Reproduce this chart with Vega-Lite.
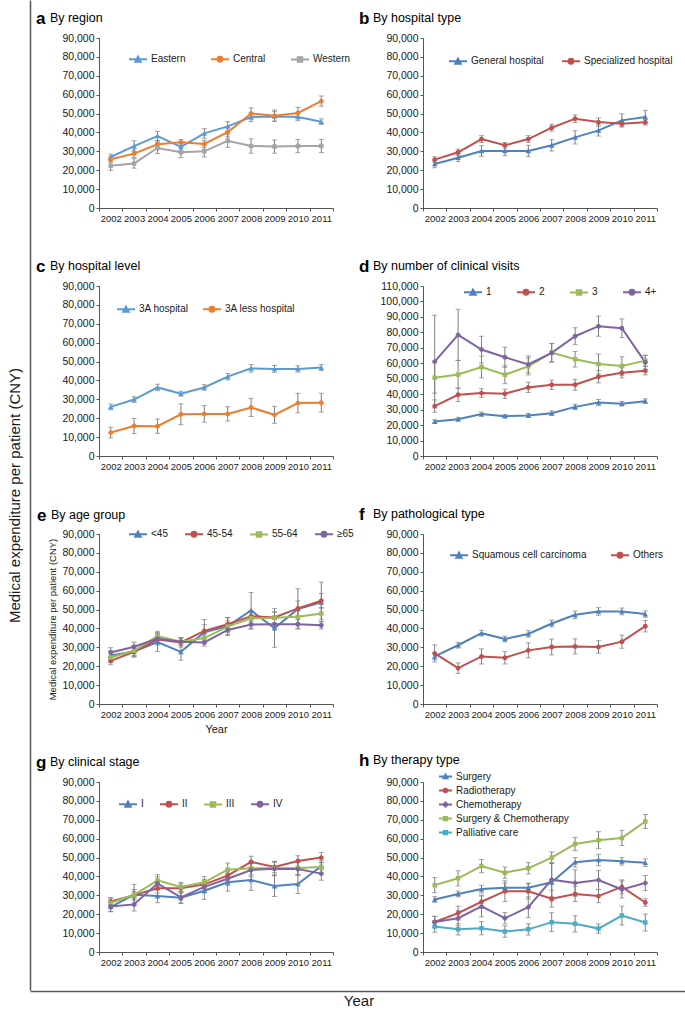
{
"$schema": "https://vega.github.io/schema/vega-lite/v6.json",
"background": "white",
"padding": {"left": 7, "top": 0, "right": 0, "bottom": 0},
"datasets": {
"a": [
{"s":"Eastern","year":"2002","v":27000,"lo":25500,"hi":28500},{"s":"Eastern","year":"2003","v":32800,"lo":30000,"hi":35600},{"s":"Eastern","year":"2004","v":38100,"lo":35600,"hi":40600},{"s":"Eastern","year":"2005","v":32300,"lo":30300,"hi":34300},{"s":"Eastern","year":"2006","v":39500,"lo":37000,"hi":42000},{"s":"Eastern","year":"2007","v":43200,"lo":40700,"hi":45700},{"s":"Eastern","year":"2008","v":48200,"lo":45700,"hi":50700},{"s":"Eastern","year":"2009","v":48500,"lo":46000,"hi":51000},{"s":"Eastern","year":"2010","v":48200,"lo":46200,"hi":50200},{"s":"Eastern","year":"2011","v":45700,"lo":44200,"hi":47200},
{"s":"Central","year":"2002","v":25800,"lo":24300,"hi":27300},{"s":"Central","year":"2003","v":28800,"lo":26800,"hi":30800},{"s":"Central","year":"2004","v":33700,"lo":31700,"hi":35700},{"s":"Central","year":"2005","v":34800,"lo":33300,"hi":36300},{"s":"Central","year":"2006","v":33900,"lo":31900,"hi":35900},{"s":"Central","year":"2007","v":40100,"lo":37600,"hi":42600},{"s":"Central","year":"2008","v":50000,"lo":47000,"hi":53000},{"s":"Central","year":"2009","v":48900,"lo":45900,"hi":51900},{"s":"Central","year":"2010","v":50300,"lo":47300,"hi":53300},{"s":"Central","year":"2011","v":56600,"lo":53900,"hi":59300},
{"s":"Western","year":"2002","v":22400,"lo":19900,"hi":24900},{"s":"Western","year":"2003","v":23600,"lo":21100,"hi":26100},{"s":"Western","year":"2004","v":31800,"lo":28800,"hi":34800},{"s":"Western","year":"2005","v":29500,"lo":26700,"hi":32300},{"s":"Western","year":"2006","v":30000,"lo":27000,"hi":33000},{"s":"Western","year":"2007","v":35600,"lo":32100,"hi":39100},{"s":"Western","year":"2008","v":32800,"lo":29000,"hi":36600},{"s":"Western","year":"2009","v":32500,"lo":29000,"hi":36000},{"s":"Western","year":"2010","v":32800,"lo":29300,"hi":36300},{"s":"Western","year":"2011","v":32800,"lo":29300,"hi":36300}
],
"b": [
{"s":"General hospital","year":"2002","v":23300,"lo":21300,"hi":25300},{"s":"General hospital","year":"2003","v":26600,"lo":24600,"hi":28600},{"s":"General hospital","year":"2004","v":30200,"lo":27400,"hi":33000},{"s":"General hospital","year":"2005","v":30200,"lo":27700,"hi":32700},{"s":"General hospital","year":"2006","v":30200,"lo":27200,"hi":33200},{"s":"General hospital","year":"2007","v":33200,"lo":30200,"hi":36200},{"s":"General hospital","year":"2008","v":37400,"lo":33900,"hi":40900},{"s":"General hospital","year":"2009","v":41100,"lo":38100,"hi":44100},{"s":"General hospital","year":"2010","v":46400,"lo":42900,"hi":49900},{"s":"General hospital","year":"2011","v":48200,"lo":44700,"hi":51700},
{"s":"Specialized hospital","year":"2002","v":25600,"lo":24100,"hi":27100},{"s":"Specialized hospital","year":"2003","v":29500,"lo":27800,"hi":31200},{"s":"Specialized hospital","year":"2004","v":36500,"lo":34700,"hi":38300},{"s":"Specialized hospital","year":"2005","v":33200,"lo":31700,"hi":34700},{"s":"Specialized hospital","year":"2006","v":36500,"lo":34700,"hi":38300},{"s":"Specialized hospital","year":"2007","v":42500,"lo":40700,"hi":44300},{"s":"Specialized hospital","year":"2008","v":47300,"lo":45300,"hi":49300},{"s":"Specialized hospital","year":"2009","v":45500,"lo":43300,"hi":47700},{"s":"Specialized hospital","year":"2010","v":44600,"lo":43100,"hi":46100},{"s":"Specialized hospital","year":"2011","v":45400,"lo":43900,"hi":46900}
],
"c": [
{"s":"3A hospital","year":"2002","v":26000,"lo":24500,"hi":27500},{"s":"3A hospital","year":"2003","v":29900,"lo":28400,"hi":31400},{"s":"3A hospital","year":"2004","v":36300,"lo":34600,"hi":38000},{"s":"3A hospital","year":"2005","v":33000,"lo":31700,"hi":34300},{"s":"3A hospital","year":"2006","v":36300,"lo":34800,"hi":37800},{"s":"3A hospital","year":"2007","v":42000,"lo":40300,"hi":43700},{"s":"3A hospital","year":"2008","v":46400,"lo":44400,"hi":48400},{"s":"3A hospital","year":"2009","v":46100,"lo":44300,"hi":47900},{"s":"3A hospital","year":"2010","v":46100,"lo":44400,"hi":47800},{"s":"3A hospital","year":"2011","v":46800,"lo":45200,"hi":48400},
{"s":"3A less hospital","year":"2002","v":12400,"lo":9600,"hi":15200},{"s":"3A less hospital","year":"2003","v":15900,"lo":11900,"hi":19900},{"s":"3A less hospital","year":"2004","v":15800,"lo":12000,"hi":19600},{"s":"3A less hospital","year":"2005","v":22100,"lo":16600,"hi":27600},{"s":"3A less hospital","year":"2006","v":22300,"lo":17900,"hi":26700},{"s":"3A less hospital","year":"2007","v":22300,"lo":18500,"hi":26100},{"s":"3A less hospital","year":"2008","v":25700,"lo":20900,"hi":30500},{"s":"3A less hospital","year":"2009","v":21800,"lo":17300,"hi":26300},{"s":"3A less hospital","year":"2010","v":28000,"lo":22800,"hi":33200},{"s":"3A less hospital","year":"2011","v":28200,"lo":23200,"hi":33200}
],
"d": [
{"s":"1","year":"2002","v":22300,"lo":21100,"hi":23500},{"s":"1","year":"2003","v":23800,"lo":22600,"hi":25000},{"s":"1","year":"2004","v":27100,"lo":25800,"hi":28400},{"s":"1","year":"2005","v":25800,"lo":24800,"hi":26800},{"s":"1","year":"2006","v":26200,"lo":24900,"hi":27500},{"s":"1","year":"2007","v":27700,"lo":26200,"hi":29200},{"s":"1","year":"2008","v":31800,"lo":30100,"hi":33500},{"s":"1","year":"2009","v":34600,"lo":32600,"hi":36600},{"s":"1","year":"2010","v":33800,"lo":32300,"hi":35300},{"s":"1","year":"2011","v":35500,"lo":34000,"hi":37000},
{"s":"2","year":"2002","v":32300,"lo":28300,"hi":36300},{"s":"2","year":"2003","v":39600,"lo":35300,"hi":43900},{"s":"2","year":"2004","v":40700,"lo":37900,"hi":43500},{"s":"2","year":"2005","v":40300,"lo":37300,"hi":43300},{"s":"2","year":"2006","v":44400,"lo":41100,"hi":47700},{"s":"2","year":"2007","v":46100,"lo":43100,"hi":49100},{"s":"2","year":"2008","v":46100,"lo":42600,"hi":49600},{"s":"2","year":"2009","v":51300,"lo":47300,"hi":55300},{"s":"2","year":"2010","v":53900,"lo":50600,"hi":57200},{"s":"2","year":"2011","v":55200,"lo":52500,"hi":57900},
{"s":"3","year":"2002","v":50700,"lo":40700,"hi":60700},{"s":"3","year":"2003","v":52800,"lo":43800,"hi":61800},{"s":"3","year":"2004","v":57600,"lo":50600,"hi":64600},{"s":"3","year":"2005","v":52600,"lo":46800,"hi":58400},{"s":"3","year":"2006","v":58000,"lo":52500,"hi":63500},{"s":"3","year":"2007","v":66900,"lo":60900,"hi":72900},{"s":"3","year":"2008","v":62600,"lo":57600,"hi":67600},{"s":"3","year":"2009","v":59500,"lo":53000,"hi":66000},{"s":"3","year":"2010","v":58200,"lo":52200,"hi":64200},{"s":"3","year":"2011","v":61700,"lo":58200,"hi":65200},
{"s":"4+","year":"2002","v":61100,"lo":31100,"hi":91100},{"s":"4+","year":"2003","v":78400,"lo":61900,"hi":94900},{"s":"4+","year":"2004","v":68900,"lo":60300,"hi":77500},{"s":"4+","year":"2005","v":63900,"lo":57400,"hi":70400},{"s":"4+","year":"2006","v":59300,"lo":53800,"hi":64800},{"s":"4+","year":"2007","v":66700,"lo":60700,"hi":72700},{"s":"4+","year":"2008","v":77500,"lo":72000,"hi":83000},{"s":"4+","year":"2009","v":84000,"lo":77500,"hi":90500},{"s":"4+","year":"2010","v":82700,"lo":76700,"hi":88700},{"s":"4+","year":"2011","v":60600,"lo":56100,"hi":65100}
],
"e": [
{"s":"<45","year":"2002","v":25700,"lo":23200,"hi":28200},{"s":"<45","year":"2003","v":27800,"lo":24800,"hi":30800},{"s":"<45","year":"2004","v":32800,"lo":27800,"hi":37800},{"s":"<45","year":"2005","v":27600,"lo":23200,"hi":32000},{"s":"<45","year":"2006","v":38000,"lo":34000,"hi":42000},{"s":"<45","year":"2007","v":41300,"lo":36800,"hi":45800},{"s":"<45","year":"2008","v":49500,"lo":40000,"hi":59000},{"s":"<45","year":"2009","v":40100,"lo":30000,"hi":50500},{"s":"<45","year":"2010","v":50300,"lo":40000,"hi":61000},{"s":"<45","year":"2011","v":53800,"lo":43500,"hi":64500},
{"s":"45-54","year":"2002","v":22800,"lo":20800,"hi":24800},{"s":"45-54","year":"2003","v":27600,"lo":25100,"hi":30100},{"s":"45-54","year":"2004","v":34200,"lo":31200,"hi":37200},{"s":"45-54","year":"2005","v":32600,"lo":30100,"hi":35100},{"s":"45-54","year":"2006","v":38700,"lo":32700,"hi":44700},{"s":"45-54","year":"2007","v":42200,"lo":38700,"hi":45700},{"s":"45-54","year":"2008","v":46500,"lo":43500,"hi":49500},{"s":"45-54","year":"2009","v":45800,"lo":42800,"hi":48800},{"s":"45-54","year":"2010","v":50600,"lo":46600,"hi":54600},{"s":"45-54","year":"2011","v":54700,"lo":50900,"hi":58500},
{"s":"55-64","year":"2002","v":24600,"lo":22100,"hi":27100},{"s":"55-64","year":"2003","v":28200,"lo":25700,"hi":30700},{"s":"55-64","year":"2004","v":36000,"lo":33500,"hi":38500},{"s":"55-64","year":"2005","v":33000,"lo":31000,"hi":35000},{"s":"55-64","year":"2006","v":34900,"lo":31900,"hi":37900},{"s":"55-64","year":"2007","v":41000,"lo":38000,"hi":44000},{"s":"55-64","year":"2008","v":45400,"lo":42400,"hi":48400},{"s":"55-64","year":"2009","v":45600,"lo":42600,"hi":48600},{"s":"55-64","year":"2010","v":46200,"lo":42700,"hi":49700},{"s":"55-64","year":"2011","v":47900,"lo":44900,"hi":50900},
{"s":"≥65","year":"2002","v":27300,"lo":24800,"hi":29800},{"s":"≥65","year":"2003","v":30300,"lo":27800,"hi":32800},{"s":"≥65","year":"2004","v":34600,"lo":32100,"hi":37100},{"s":"≥65","year":"2005","v":33000,"lo":31000,"hi":35000},{"s":"≥65","year":"2006","v":32600,"lo":30600,"hi":34600},{"s":"≥65","year":"2007","v":39200,"lo":36200,"hi":42200},{"s":"≥65","year":"2008","v":42100,"lo":39600,"hi":44600},{"s":"≥65","year":"2009","v":42200,"lo":39700,"hi":44700},{"s":"≥65","year":"2010","v":42200,"lo":39700,"hi":44700},{"s":"≥65","year":"2011","v":41700,"lo":39700,"hi":43700}
],
"f": [
{"s":"Squamous cell carcinoma","year":"2002","v":25200,"lo":23500,"hi":26900},{"s":"Squamous cell carcinoma","year":"2003","v":31100,"lo":29600,"hi":32600},{"s":"Squamous cell carcinoma","year":"2004","v":37500,"lo":36000,"hi":39000},{"s":"Squamous cell carcinoma","year":"2005","v":34400,"lo":32900,"hi":35900},{"s":"Squamous cell carcinoma","year":"2006","v":37100,"lo":35400,"hi":38800},{"s":"Squamous cell carcinoma","year":"2007","v":42600,"lo":40800,"hi":44400},{"s":"Squamous cell carcinoma","year":"2008","v":47200,"lo":45200,"hi":49200},{"s":"Squamous cell carcinoma","year":"2009","v":49000,"lo":47000,"hi":51000},{"s":"Squamous cell carcinoma","year":"2010","v":49000,"lo":47200,"hi":50800},{"s":"Squamous cell carcinoma","year":"2011","v":47600,"lo":45900,"hi":49300},
{"s":"Others","year":"2002","v":26800,"lo":22300,"hi":31300},{"s":"Others","year":"2003","v":19000,"lo":16200,"hi":21800},{"s":"Others","year":"2004","v":25200,"lo":21200,"hi":29200},{"s":"Others","year":"2005","v":24500,"lo":21200,"hi":27800},{"s":"Others","year":"2006","v":28400,"lo":24400,"hi":32400},{"s":"Others","year":"2007","v":30200,"lo":26000,"hi":34400},{"s":"Others","year":"2008","v":30500,"lo":26500,"hi":34500},{"s":"Others","year":"2009","v":30200,"lo":26900,"hi":33500},{"s":"Others","year":"2010","v":33000,"lo":29500,"hi":36500},{"s":"Others","year":"2011","v":41200,"lo":38200,"hi":44200}
],
"g": [
{"s":"I","year":"2002","v":23900,"lo":21400,"hi":26400},{"s":"I","year":"2003","v":30300,"lo":27500,"hi":33100},{"s":"I","year":"2004","v":29600,"lo":26100,"hi":33100},{"s":"I","year":"2005","v":28700,"lo":25700,"hi":31700},{"s":"I","year":"2006","v":32400,"lo":27900,"hi":36900},{"s":"I","year":"2007","v":36900,"lo":32200,"hi":41600},{"s":"I","year":"2008","v":38100,"lo":32600,"hi":43600},{"s":"I","year":"2009","v":34900,"lo":29400,"hi":40400},{"s":"I","year":"2010","v":36000,"lo":31000,"hi":41000},{"s":"I","year":"2011","v":45500,"lo":43500,"hi":47500},
{"s":"II","year":"2002","v":26800,"lo":24800,"hi":28800},{"s":"II","year":"2003","v":30100,"lo":28100,"hi":32100},{"s":"II","year":"2004","v":33700,"lo":31200,"hi":36200},{"s":"II","year":"2005","v":33700,"lo":31200,"hi":36200},{"s":"II","year":"2006","v":35800,"lo":33300,"hi":38300},{"s":"II","year":"2007","v":40400,"lo":37400,"hi":43400},{"s":"II","year":"2008","v":47700,"lo":44700,"hi":50700},{"s":"II","year":"2009","v":45000,"lo":42000,"hi":48000},{"s":"II","year":"2010","v":48200,"lo":45400,"hi":51000},{"s":"II","year":"2011","v":50000,"lo":47300,"hi":52700},
{"s":"III","year":"2002","v":26000,"lo":23500,"hi":28500},{"s":"III","year":"2003","v":30300,"lo":24800,"hi":35800},{"s":"III","year":"2004","v":37900,"lo":34900,"hi":40900},{"s":"III","year":"2005","v":34400,"lo":31900,"hi":36900},{"s":"III","year":"2006","v":36900,"lo":33900,"hi":39900},{"s":"III","year":"2007","v":43600,"lo":40100,"hi":47100},{"s":"III","year":"2008","v":44300,"lo":40800,"hi":47800},{"s":"III","year":"2009","v":44300,"lo":40800,"hi":47800},{"s":"III","year":"2010","v":44500,"lo":41000,"hi":48000},{"s":"III","year":"2011","v":45000,"lo":41500,"hi":48500},
{"s":"IV","year":"2002","v":24100,"lo":21300,"hi":26900},{"s":"IV","year":"2003","v":25200,"lo":21700,"hi":28700},{"s":"IV","year":"2004","v":36300,"lo":32800,"hi":39800},{"s":"IV","year":"2005","v":28900,"lo":25900,"hi":31900},{"s":"IV","year":"2006","v":34500,"lo":31500,"hi":37500},{"s":"IV","year":"2007","v":38800,"lo":35300,"hi":42300},{"s":"IV","year":"2008","v":43400,"lo":39900,"hi":46900},{"s":"IV","year":"2009","v":44100,"lo":40600,"hi":47600},{"s":"IV","year":"2010","v":43900,"lo":40400,"hi":47400},{"s":"IV","year":"2011","v":41500,"lo":38000,"hi":45000}
],
"h": [
{"s":"Surgery","year":"2002","v":27800,"lo":26300,"hi":29300},{"s":"Surgery","year":"2003","v":30700,"lo":29200,"hi":32200},{"s":"Surgery","year":"2004","v":33300,"lo":31300,"hi":35300},{"s":"Surgery","year":"2005","v":34000,"lo":31500,"hi":36500},{"s":"Surgery","year":"2006","v":34000,"lo":31500,"hi":36500},{"s":"Surgery","year":"2007","v":36900,"lo":27000,"hi":46800},{"s":"Surgery","year":"2008","v":47500,"lo":45000,"hi":50000},{"s":"Surgery","year":"2009","v":48700,"lo":45700,"hi":51700},{"s":"Surgery","year":"2010","v":48000,"lo":46000,"hi":50000},{"s":"Surgery","year":"2011","v":47300,"lo":45300,"hi":49300},
{"s":"Radiotherapy","year":"2002","v":15900,"lo":12900,"hi":18900},{"s":"Radiotherapy","year":"2003","v":20600,"lo":16900,"hi":24300},{"s":"Radiotherapy","year":"2004","v":26600,"lo":23100,"hi":30100},{"s":"Radiotherapy","year":"2005","v":32200,"lo":26700,"hi":37700},{"s":"Radiotherapy","year":"2006","v":32100,"lo":28100,"hi":36100},{"s":"Radiotherapy","year":"2007","v":28200,"lo":23700,"hi":32700},{"s":"Radiotherapy","year":"2008","v":30700,"lo":26700,"hi":34700},{"s":"Radiotherapy","year":"2009","v":29600,"lo":26100,"hi":33100},{"s":"Radiotherapy","year":"2010","v":34500,"lo":30800,"hi":38200},{"s":"Radiotherapy","year":"2011","v":26200,"lo":24200,"hi":28200},
{"s":"Chemotherapy","year":"2002","v":15900,"lo":12900,"hi":18900},{"s":"Chemotherapy","year":"2003","v":17900,"lo":13900,"hi":21900},{"s":"Chemotherapy","year":"2004","v":24100,"lo":18600,"hi":29600},{"s":"Chemotherapy","year":"2005","v":17900,"lo":14900,"hi":20900},{"s":"Chemotherapy","year":"2006","v":23700,"lo":18200,"hi":29200},{"s":"Chemotherapy","year":"2007","v":38300,"lo":29300,"hi":47300},{"s":"Chemotherapy","year":"2008","v":36500,"lo":29500,"hi":43500},{"s":"Chemotherapy","year":"2009","v":38100,"lo":33100,"hi":43100},{"s":"Chemotherapy","year":"2010","v":33100,"lo":28600,"hi":37600},{"s":"Chemotherapy","year":"2011","v":36500,"lo":32500,"hi":40500},
{"s":"Surgery & Chemotherapy","year":"2002","v":35400,"lo":31400,"hi":39400},{"s":"Surgery & Chemotherapy","year":"2003","v":39000,"lo":35000,"hi":43000},{"s":"Surgery & Chemotherapy","year":"2004","v":45500,"lo":42000,"hi":49000},{"s":"Surgery & Chemotherapy","year":"2005","v":42000,"lo":39000,"hi":45000},{"s":"Surgery & Chemotherapy","year":"2006","v":44300,"lo":41300,"hi":47300},{"s":"Surgery & Chemotherapy","year":"2007","v":50000,"lo":47000,"hi":53000},{"s":"Surgery & Chemotherapy","year":"2008","v":57200,"lo":53700,"hi":60700},{"s":"Surgery & Chemotherapy","year":"2009","v":59200,"lo":54700,"hi":63700},{"s":"Surgery & Chemotherapy","year":"2010","v":60400,"lo":56400,"hi":64400},{"s":"Surgery & Chemotherapy","year":"2011","v":69100,"lo":65400,"hi":72800},
{"s":"Palliative care","year":"2002","v":13500,"lo":10500,"hi":16500},{"s":"Palliative care","year":"2003","v":12000,"lo":9000,"hi":15000},{"s":"Palliative care","year":"2004","v":12600,"lo":9100,"hi":16100},{"s":"Palliative care","year":"2005","v":10800,"lo":7800,"hi":13800},{"s":"Palliative care","year":"2006","v":12000,"lo":9000,"hi":15000},{"s":"Palliative care","year":"2007","v":15800,"lo":10800,"hi":20800},{"s":"Palliative care","year":"2008","v":14900,"lo":10600,"hi":19200},{"s":"Palliative care","year":"2009","v":12400,"lo":9900,"hi":14900},{"s":"Palliative care","year":"2010","v":19300,"lo":14300,"hi":24300},{"s":"Palliative care","year":"2011","v":15600,"lo":11100,"hi":20100}
]
},
"vconcat": [
{"concat": [
{"width": 1, "height": 990, "data": {"values": []}, "mark": {"type": "point", "opacity": 0},
 "encoding": {"y": {"field": "v", "type": "quantitative", "scale": {"domain": [0, 1]}, "axis": {"title": "Medical expenditure per patient (CNY)", "labels": false, "ticks": false, "grid": false, "domain": true, "domainColor": "#555555", "domainWidth": 1.5, "titleFontSize": 15, "titlePadding": 8, "titleColor": "#1a1a1a", "titleFontWeight": "normal"}}}},
{"vconcat": [
{"width": 1, "height": 1, "data": {"values": []}, "mark": {"type": "point", "opacity": 0}, "encoding": {}},
{"concat": [
{"title": {"text": "a", "subtitle": "\u200b\u00a0\u00a0\u00a0\u00a0By region", "dx": -63},
 "width": 234, "height": 170, "data": {"name": "a"},
 "encoding": {"x": {"field": "year", "type": "ordinal", "title": null, "bandPosition": 0.5, "scale": {"type": "band", "paddingInner": 0, "paddingOuter": 0}}},
 "layer": [
  {"mark": {"type": "rule", "color": "#7f7f7f", "strokeWidth": 1}, "encoding": {"y": {"field": "lo", "type": "quantitative", "title": null, "scale": {"domain": [0, 90000], "nice": false}}, "y2": {"field": "hi"}}},
  {"mark": {"type": "tick", "color": "#7f7f7f", "size": 5, "thickness": 1}, "encoding": {"y": {"field": "lo", "type": "quantitative", "title": null}}},
  {"mark": {"type": "tick", "color": "#7f7f7f", "size": 5, "thickness": 1}, "encoding": {"y": {"field": "hi", "type": "quantitative", "title": null}}},
  {"mark": {"type": "line", "strokeWidth": 2}, "encoding": {"y": {"field": "v", "type": "quantitative", "title": null}, "color": {"field": "s", "type": "nominal", "scale": {"domain": ["Eastern","Central","Western"], "range": ["#5B9BD5","#ED7D31","#A5A5A5"]}, "legend": {"orient": "none", "legendX": 29, "legendY": 11, "direction": "horizontal", "title": null, "columnPadding": 21, "encode": {"symbols": {"update": {"strokeWidth": {"value": 2}}}}}}}},
  {"mark": {"type": "point", "filled": true, "opacity": 1, "size": 324, "strokeWidth": 0}, "encoding": {"y": {"field": "v", "type": "quantitative", "title": null},
   "color": {"field": "s", "type": "nominal", "scale": {"domain": ["Eastern","Central","Western"], "range": ["#5B9BD5","#ED7D31","#A5A5A5"]}, "legend": {"orient": "none", "legendX": 29, "legendY": 11, "direction": "horizontal", "title": null, "columnPadding": 21, "encode": {"symbols": {"update": {"strokeWidth": {"value": 2}}}}}},
   "shape": {"field": "s", "type": "nominal", "scale": {"domain": ["Eastern","Central","Western"], "range": ["M-1,0H1M-0.3,0.26L0,-0.3L0.3,0.26Z","M-1,0H1M0.27,0A0.27,0.27 0 1,1 -0.27,0A0.27,0.27 0 1,1 0.27,0Z","M-1,0H1M-0.25,-0.25H0.25V0.25H-0.25Z"]}, "legend": {"orient": "none", "legendX": 29, "legendY": 11, "direction": "horizontal", "title": null, "columnPadding": 21, "encode": {"symbols": {"update": {"strokeWidth": {"value": 2}}}}}}}}
 ]},
{"title": {"text": "b", "subtitle": "\u200b\u00a0\u00a0\u00a0\u00a0By hospital type", "dx": -64},
 "width": 234, "height": 170, "data": {"name": "b"},
 "encoding": {"x": {"field": "year", "type": "ordinal", "title": null, "bandPosition": 0.5, "scale": {"type": "band", "paddingInner": 0, "paddingOuter": 0}}},
 "layer": [
  {"mark": {"type": "rule", "color": "#7f7f7f", "strokeWidth": 1}, "encoding": {"y": {"field": "lo", "type": "quantitative", "title": null, "scale": {"domain": [0, 90000], "nice": false}}, "y2": {"field": "hi"}}},
  {"mark": {"type": "tick", "color": "#7f7f7f", "size": 5, "thickness": 1}, "encoding": {"y": {"field": "lo", "type": "quantitative", "title": null}}},
  {"mark": {"type": "tick", "color": "#7f7f7f", "size": 5, "thickness": 1}, "encoding": {"y": {"field": "hi", "type": "quantitative", "title": null}}},
  {"mark": {"type": "line", "strokeWidth": 2}, "encoding": {"y": {"field": "v", "type": "quantitative", "title": null}, "color": {"field": "s", "type": "nominal", "scale": {"domain": ["General hospital","Specialized hospital"], "range": ["#4F81BD","#C0504D"]}, "legend": {"orient": "none", "legendX": 25, "legendY": 13, "direction": "horizontal", "title": null, "columnPadding": 14, "encode": {"symbols": {"update": {"strokeWidth": {"value": 2}}}}}}}},
  {"mark": {"type": "point", "filled": true, "opacity": 1, "size": 324, "strokeWidth": 0}, "encoding": {"y": {"field": "v", "type": "quantitative", "title": null},
   "color": {"field": "s", "type": "nominal", "scale": {"domain": ["General hospital","Specialized hospital"], "range": ["#4F81BD","#C0504D"]}, "legend": {"orient": "none", "legendX": 25, "legendY": 13, "direction": "horizontal", "title": null, "columnPadding": 14, "encode": {"symbols": {"update": {"strokeWidth": {"value": 2}}}}}},
   "shape": {"field": "s", "type": "nominal", "scale": {"domain": ["General hospital","Specialized hospital"], "range": ["M-1,0H1M-0.3,0.26L0,-0.3L0.3,0.26Z","M-1,0H1M0.27,0A0.27,0.27 0 1,1 -0.27,0A0.27,0.27 0 1,1 0.27,0Z"]}, "legend": {"orient": "none", "legendX": 25, "legendY": 13, "direction": "horizontal", "title": null, "columnPadding": 14, "encode": {"symbols": {"update": {"strokeWidth": {"value": 2}}}}}}}}
 ]},
{"title": {"text": "c", "subtitle": "\u200b\u00a0\u00a0\u00a0\u00a0By hospital level", "dx": -63},
 "width": 234, "height": 170, "data": {"name": "c"},
 "encoding": {"x": {"field": "year", "type": "ordinal", "title": null, "bandPosition": 0.5, "scale": {"type": "band", "paddingInner": 0, "paddingOuter": 0}}},
 "layer": [
  {"mark": {"type": "rule", "color": "#7f7f7f", "strokeWidth": 1}, "encoding": {"y": {"field": "lo", "type": "quantitative", "title": null, "scale": {"domain": [0, 90000], "nice": false}}, "y2": {"field": "hi"}}},
  {"mark": {"type": "tick", "color": "#7f7f7f", "size": 5, "thickness": 1}, "encoding": {"y": {"field": "lo", "type": "quantitative", "title": null}}},
  {"mark": {"type": "tick", "color": "#7f7f7f", "size": 5, "thickness": 1}, "encoding": {"y": {"field": "hi", "type": "quantitative", "title": null}}},
  {"mark": {"type": "line", "strokeWidth": 2}, "encoding": {"y": {"field": "v", "type": "quantitative", "title": null}, "color": {"field": "s", "type": "nominal", "scale": {"domain": ["3A hospital","3A less hospital"], "range": ["#5B9BD5","#ED7D31"]}, "legend": {"orient": "none", "legendX": 17, "legendY": 13, "direction": "horizontal", "title": null, "columnPadding": 10, "encode": {"symbols": {"update": {"strokeWidth": {"value": 2}}}}}}}},
  {"mark": {"type": "point", "filled": true, "opacity": 1, "size": 324, "strokeWidth": 0}, "encoding": {"y": {"field": "v", "type": "quantitative", "title": null},
   "color": {"field": "s", "type": "nominal", "scale": {"domain": ["3A hospital","3A less hospital"], "range": ["#5B9BD5","#ED7D31"]}, "legend": {"orient": "none", "legendX": 17, "legendY": 13, "direction": "horizontal", "title": null, "columnPadding": 10, "encode": {"symbols": {"update": {"strokeWidth": {"value": 2}}}}}},
   "shape": {"field": "s", "type": "nominal", "scale": {"domain": ["3A hospital","3A less hospital"], "range": ["M-1,0H1M-0.3,0.26L0,-0.3L0.3,0.26Z","M-1,0H1M0.27,0A0.27,0.27 0 1,1 -0.27,0A0.27,0.27 0 1,1 0.27,0Z"]}, "legend": {"orient": "none", "legendX": 17, "legendY": 13, "direction": "horizontal", "title": null, "columnPadding": 10, "encode": {"symbols": {"update": {"strokeWidth": {"value": 2}}}}}}}}
 ]},
{"title": {"text": "d", "subtitle": "\u200b\u00a0\u00a0\u00a0\u00a0By number of clinical visits", "dx": -64},
 "width": 234, "height": 170, "data": {"name": "d"},
 "encoding": {"x": {"field": "year", "type": "ordinal", "title": null, "bandPosition": 0.5, "scale": {"type": "band", "paddingInner": 0, "paddingOuter": 0}}},
 "layer": [
  {"mark": {"type": "rule", "color": "#7f7f7f", "strokeWidth": 1}, "encoding": {"y": {"field": "lo", "type": "quantitative", "title": null, "scale": {"domain": [0, 110000], "nice": false}, "axis": {"tickCount": 11}}, "y2": {"field": "hi"}}},
  {"mark": {"type": "tick", "color": "#7f7f7f", "size": 5, "thickness": 1}, "encoding": {"y": {"field": "lo", "type": "quantitative", "title": null}}},
  {"mark": {"type": "tick", "color": "#7f7f7f", "size": 5, "thickness": 1}, "encoding": {"y": {"field": "hi", "type": "quantitative", "title": null}}},
  {"mark": {"type": "line", "strokeWidth": 2}, "encoding": {"y": {"field": "v", "type": "quantitative", "title": null}, "color": {"field": "s", "type": "nominal", "scale": {"domain": ["1","2","3","4+"], "range": ["#4F81BD","#C0504D","#9BBB59","#8064A2"]}, "legend": {"orient": "none", "legendX": 40, "legendY": -4, "direction": "horizontal", "title": null, "columnPadding": 21, "encode": {"symbols": {"update": {"strokeWidth": {"value": 2}}}}}}}},
  {"mark": {"type": "point", "filled": true, "opacity": 1, "size": 324, "strokeWidth": 0}, "encoding": {"y": {"field": "v", "type": "quantitative", "title": null},
   "color": {"field": "s", "type": "nominal", "scale": {"domain": ["1","2","3","4+"], "range": ["#4F81BD","#C0504D","#9BBB59","#8064A2"]}, "legend": {"orient": "none", "legendX": 40, "legendY": -4, "direction": "horizontal", "title": null, "columnPadding": 21, "encode": {"symbols": {"update": {"strokeWidth": {"value": 2}}}}}},
   "shape": {"field": "s", "type": "nominal", "scale": {"domain": ["1","2","3","4+"], "range": ["M-1,0H1M-0.3,0.26L0,-0.3L0.3,0.26Z","M-1,0H1M0.27,0A0.27,0.27 0 1,1 -0.27,0A0.27,0.27 0 1,1 0.27,0Z","M-1,0H1M-0.25,-0.25H0.25V0.25H-0.25Z","M-1,0H1M0.27,0A0.27,0.27 0 1,1 -0.27,0A0.27,0.27 0 1,1 0.27,0Z"]}, "legend": {"orient": "none", "legendX": 40, "legendY": -4, "direction": "horizontal", "title": null, "columnPadding": 21, "encode": {"symbols": {"update": {"strokeWidth": {"value": 2}}}}}}}}
 ]},
{"title": {"text": "e", "subtitle": "\u200b\u00a0\u00a0\u00a0\u00a0By age group", "dx": -62, "offset": -1},
 "width": 234, "height": 170, "data": {"name": "e"},
 "encoding": {"x": {"field": "year", "type": "ordinal", "title": "Year", "bandPosition": 0.5, "scale": {"type": "band", "paddingInner": 0, "paddingOuter": 0}, "axis": {"titleFontSize": 11, "titleFontWeight": "normal", "titlePadding": 5}}},
 "layer": [
  {"mark": {"type": "rule", "color": "#7f7f7f", "strokeWidth": 1}, "encoding": {"y": {"field": "lo", "type": "quantitative", "title": "Medical expenditure per patient (CNY)", "scale": {"domain": [0, 90000], "nice": false}, "axis": {"titleFontSize": 9.5, "titleFontWeight": "normal", "titlePadding": 4}}, "y2": {"field": "hi"}}},
  {"mark": {"type": "tick", "color": "#7f7f7f", "size": 5, "thickness": 1}, "encoding": {"y": {"field": "lo", "type": "quantitative", "title": "Medical expenditure per patient (CNY)"}}},
  {"mark": {"type": "tick", "color": "#7f7f7f", "size": 5, "thickness": 1}, "encoding": {"y": {"field": "hi", "type": "quantitative", "title": "Medical expenditure per patient (CNY)"}}},
  {"mark": {"type": "line", "strokeWidth": 2}, "encoding": {"y": {"field": "v", "type": "quantitative", "title": "Medical expenditure per patient (CNY)"}, "color": {"field": "s", "type": "nominal", "scale": {"domain": ["<45","45-54","55-64","≥65"], "range": ["#4F81BD","#C0504D","#9BBB59","#8064A2"]}, "legend": {"orient": "none", "legendX": 29, "legendY": -10, "direction": "horizontal", "title": null, "columnPadding": 13, "encode": {"symbols": {"update": {"strokeWidth": {"value": 2}}}}}}}},
  {"mark": {"type": "point", "filled": true, "opacity": 1, "size": 324, "strokeWidth": 0}, "encoding": {"y": {"field": "v", "type": "quantitative", "title": "Medical expenditure per patient (CNY)"},
   "color": {"field": "s", "type": "nominal", "scale": {"domain": ["<45","45-54","55-64","≥65"], "range": ["#4F81BD","#C0504D","#9BBB59","#8064A2"]}, "legend": {"orient": "none", "legendX": 29, "legendY": -10, "direction": "horizontal", "title": null, "columnPadding": 13, "encode": {"symbols": {"update": {"strokeWidth": {"value": 2}}}}}},
   "shape": {"field": "s", "type": "nominal", "scale": {"domain": ["<45","45-54","55-64","≥65"], "range": ["M-1,0H1M-0.3,0.26L0,-0.3L0.3,0.26Z","M-1,0H1M0.27,0A0.27,0.27 0 1,1 -0.27,0A0.27,0.27 0 1,1 0.27,0Z","M-1,0H1M-0.25,-0.25H0.25V0.25H-0.25Z","M-1,0H1M0.27,0A0.27,0.27 0 1,1 -0.27,0A0.27,0.27 0 1,1 0.27,0Z"]}, "legend": {"orient": "none", "legendX": 29, "legendY": -10, "direction": "horizontal", "title": null, "columnPadding": 13, "encode": {"symbols": {"update": {"strokeWidth": {"value": 2}}}}}}}}
 ]},
{"title": {"text": "f", "subtitle": "\u200b\u00a0\u00a0\u00a0\u00a0By pathological type", "dx": -64},
 "width": 234, "height": 170, "data": {"name": "f"},
 "encoding": {"x": {"field": "year", "type": "ordinal", "title": null, "bandPosition": 0.5, "scale": {"type": "band", "paddingInner": 0, "paddingOuter": 0}}},
 "layer": [
  {"mark": {"type": "rule", "color": "#7f7f7f", "strokeWidth": 1}, "encoding": {"y": {"field": "lo", "type": "quantitative", "title": null, "scale": {"domain": [0, 90000], "nice": false}}, "y2": {"field": "hi"}}},
  {"mark": {"type": "tick", "color": "#7f7f7f", "size": 5, "thickness": 1}, "encoding": {"y": {"field": "lo", "type": "quantitative", "title": null}}},
  {"mark": {"type": "tick", "color": "#7f7f7f", "size": 5, "thickness": 1}, "encoding": {"y": {"field": "hi", "type": "quantitative", "title": null}}},
  {"mark": {"type": "line", "strokeWidth": 2}, "encoding": {"y": {"field": "v", "type": "quantitative", "title": null}, "color": {"field": "s", "type": "nominal", "scale": {"domain": ["Squamous cell carcinoma","Others"], "range": ["#4F81BD","#C0504D"]}, "legend": {"orient": "none", "legendX": 26, "legendY": 11, "direction": "horizontal", "title": null, "columnPadding": 20, "encode": {"symbols": {"update": {"strokeWidth": {"value": 2}}}}}}}},
  {"mark": {"type": "point", "filled": true, "opacity": 1, "size": 324, "strokeWidth": 0}, "encoding": {"y": {"field": "v", "type": "quantitative", "title": null},
   "color": {"field": "s", "type": "nominal", "scale": {"domain": ["Squamous cell carcinoma","Others"], "range": ["#4F81BD","#C0504D"]}, "legend": {"orient": "none", "legendX": 26, "legendY": 11, "direction": "horizontal", "title": null, "columnPadding": 20, "encode": {"symbols": {"update": {"strokeWidth": {"value": 2}}}}}},
   "shape": {"field": "s", "type": "nominal", "scale": {"domain": ["Squamous cell carcinoma","Others"], "range": ["M-1,0H1M-0.3,0.26L0,-0.3L0.3,0.26Z","M-1,0H1M0.27,0A0.27,0.27 0 1,1 -0.27,0A0.27,0.27 0 1,1 0.27,0Z"]}, "legend": {"orient": "none", "legendX": 26, "legendY": 11, "direction": "horizontal", "title": null, "columnPadding": 20, "encode": {"symbols": {"update": {"strokeWidth": {"value": 2}}}}}}}}
 ]},
{"title": {"text": "g", "subtitle": "\u200b\u00a0\u00a0\u00a0\u00a0By clinical stage", "dx": -63},
 "width": 234, "height": 170, "data": {"name": "g"},
 "encoding": {"x": {"field": "year", "type": "ordinal", "title": null, "bandPosition": 0.5, "scale": {"type": "band", "paddingInner": 0, "paddingOuter": 0}}},
 "layer": [
  {"mark": {"type": "rule", "color": "#7f7f7f", "strokeWidth": 1}, "encoding": {"y": {"field": "lo", "type": "quantitative", "title": null, "scale": {"domain": [0, 90000], "nice": false}}, "y2": {"field": "hi"}}},
  {"mark": {"type": "tick", "color": "#7f7f7f", "size": 5, "thickness": 1}, "encoding": {"y": {"field": "lo", "type": "quantitative", "title": null}}},
  {"mark": {"type": "tick", "color": "#7f7f7f", "size": 5, "thickness": 1}, "encoding": {"y": {"field": "hi", "type": "quantitative", "title": null}}},
  {"mark": {"type": "line", "strokeWidth": 2}, "encoding": {"y": {"field": "v", "type": "quantitative", "title": null}, "color": {"field": "s", "type": "nominal", "scale": {"domain": ["I","II","III","IV"], "range": ["#4F81BD","#C0504D","#9BBB59","#8064A2"]}, "legend": {"orient": "none", "legendX": 19, "legendY": 12, "direction": "horizontal", "title": null, "columnPadding": 12, "encode": {"symbols": {"update": {"strokeWidth": {"value": 2}}}}}}}},
  {"mark": {"type": "point", "filled": true, "opacity": 1, "size": 324, "strokeWidth": 0}, "encoding": {"y": {"field": "v", "type": "quantitative", "title": null},
   "color": {"field": "s", "type": "nominal", "scale": {"domain": ["I","II","III","IV"], "range": ["#4F81BD","#C0504D","#9BBB59","#8064A2"]}, "legend": {"orient": "none", "legendX": 19, "legendY": 12, "direction": "horizontal", "title": null, "columnPadding": 12, "encode": {"symbols": {"update": {"strokeWidth": {"value": 2}}}}}},
   "shape": {"field": "s", "type": "nominal", "scale": {"domain": ["I","II","III","IV"], "range": ["M-1,0H1M-0.3,0.26L0,-0.3L0.3,0.26Z","M-1,0H1M0.27,0A0.27,0.27 0 1,1 -0.27,0A0.27,0.27 0 1,1 0.27,0Z","M-1,0H1M-0.25,-0.25H0.25V0.25H-0.25Z","M-1,0H1M0.27,0A0.27,0.27 0 1,1 -0.27,0A0.27,0.27 0 1,1 0.27,0Z"]}, "legend": {"orient": "none", "legendX": 19, "legendY": 12, "direction": "horizontal", "title": null, "columnPadding": 12, "encode": {"symbols": {"update": {"strokeWidth": {"value": 2}}}}}}}}
 ]},
{"title": {"text": "h", "subtitle": "\u200b\u00a0\u00a0\u00a0\u00a0By therapy type", "dx": -64, "offset": -1},
 "width": 234, "height": 170, "data": {"name": "h"},
 "encoding": {"x": {"field": "year", "type": "ordinal", "title": null, "bandPosition": 0.5, "scale": {"type": "band", "paddingInner": 0, "paddingOuter": 0}}},
 "layer": [
  {"mark": {"type": "rule", "color": "#7f7f7f", "strokeWidth": 1}, "encoding": {"y": {"field": "lo", "type": "quantitative", "title": null, "scale": {"domain": [0, 90000], "nice": false}}, "y2": {"field": "hi"}}},
  {"mark": {"type": "tick", "color": "#7f7f7f", "size": 5, "thickness": 1}, "encoding": {"y": {"field": "lo", "type": "quantitative", "title": null}}},
  {"mark": {"type": "tick", "color": "#7f7f7f", "size": 5, "thickness": 1}, "encoding": {"y": {"field": "hi", "type": "quantitative", "title": null}}},
  {"mark": {"type": "line", "strokeWidth": 2}, "encoding": {"y": {"field": "v", "type": "quantitative", "title": null}, "color": {"field": "s", "type": "nominal", "scale": {"domain": ["Surgery","Radiotherapy","Chemotherapy","Surgery & Chemotherapy","Palliative care"], "range": ["#4F81BD","#C0504D","#8064A2","#9BBB59","#4BACC6"]}, "legend": {"orient": "none", "legendX": 15, "legendY": -13, "direction": "vertical", "title": null, "rowPadding": 0, "symbolSize": 169, "encode": {"symbols": {"update": {"strokeWidth": {"value": 2}}}}}}}},
  {"mark": {"type": "point", "filled": true, "opacity": 1, "size": 324, "strokeWidth": 0}, "encoding": {"y": {"field": "v", "type": "quantitative", "title": null},
   "color": {"field": "s", "type": "nominal", "scale": {"domain": ["Surgery","Radiotherapy","Chemotherapy","Surgery & Chemotherapy","Palliative care"], "range": ["#4F81BD","#C0504D","#8064A2","#9BBB59","#4BACC6"]}, "legend": {"orient": "none", "legendX": 15, "legendY": -13, "direction": "vertical", "title": null, "rowPadding": 0, "symbolSize": 169, "encode": {"symbols": {"update": {"strokeWidth": {"value": 2}}}}}},
   "shape": {"field": "s", "type": "nominal", "scale": {"domain": ["Surgery","Radiotherapy","Chemotherapy","Surgery & Chemotherapy","Palliative care"], "range": ["M-1,0H1M-0.3,0.26L0,-0.3L0.3,0.26Z","M-1,0H1M0.27,0A0.27,0.27 0 1,1 -0.27,0A0.27,0.27 0 1,1 0.27,0Z","M-1,0H1M0,-0.33L0.33,0L0,0.33L-0.33,0Z","M-1,0H1M-0.25,-0.25H0.25V0.25H-0.25Z","M-1,0H1M-0.25,-0.25H0.25V0.25H-0.25Z"]}, "legend": {"orient": "none", "legendX": 15, "legendY": -13, "direction": "vertical", "title": null, "rowPadding": 0, "symbolSize": 169, "encode": {"symbols": {"update": {"strokeWidth": {"value": 2}}}}}}}}
 ]}
], "columns": 2, "spacing": {"row": 78, "column": 90}, "bounds": "flush",
 "resolve": {"scale": {"color": "independent", "shape": "independent", "x": "independent", "y": "independent"}, "legend": {"color": "independent", "shape": "independent"}}}
], "spacing": 9}
], "columns": 2, "align": "none", "spacing": 5},
{"width": 657, "height": 1, "data": {"values": []}, "mark": {"type": "point", "opacity": 0},
 "encoding": {
  "x": {"field": "v", "type": "quantitative", "scale": {"domain": [0, 1]}, "axis": {"title": "Year", "labels": false, "ticks": false, "grid": false, "domain": true, "domainColor": "#555555", "domainWidth": 1.5, "titleFontSize": 15, "titlePadding": 2, "titleColor": "#1a1a1a", "titleFontWeight": "normal"}}}}
],
"spacing": 0,
"config": {
 "view": {"stroke": null},
 "font": "Liberation Sans",
 "title": {"anchor": "start", "frame": "group", "fontSize": 17, "fontWeight": "bold", "font": "Liberation Sans", "color": "#000000", "subtitleFontSize": 12.5, "subtitleColor": "#000000", "subtitleFont": "Liberation Sans", "subtitlePadding": -16, "offset": 5},
 "axis": {"domainColor": "#555555", "tickColor": "#555555", "labelColor": "#1a1a1a", "labelFont": "Liberation Sans", "titleFont": "Liberation Sans", "titleColor": "#1a1a1a", "grid": false},
 "axisX": {"labelFontSize": 9.5, "labelAngle": 0, "labelOverlap": false, "tickSize": 3, "labelPadding": 2, "tickBand": "extent"},
 "axisY": {"labelFontSize": 10.5, "tickSize": 3, "labelPadding": 2, "format": ",d", "labelOverlap": false, "tickCount": 10},
 "legend": {"labelFontSize": 10, "labelFont": "Liberation Sans", "labelColor": "#1a1a1a", "symbolSize": 324, "labelOffset": 3, "padding": 0, "rowPadding": 0, "titlePadding": 0}
}
}
